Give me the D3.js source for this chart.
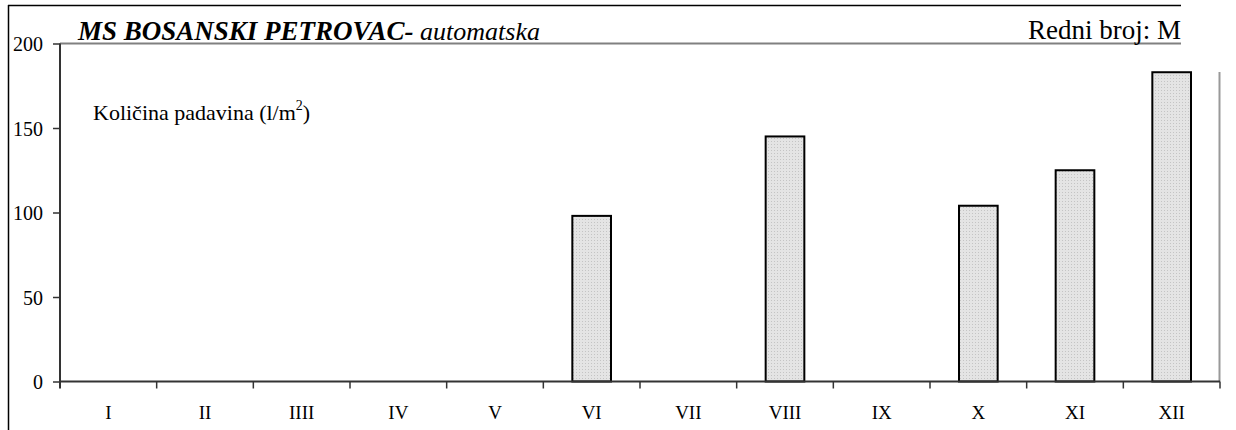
<!DOCTYPE html>
<html><head><meta charset="utf-8">
<script src="https://cdn.jsdelivr.net/npm/d3@7/dist/d3.min.js"></script>
<style>body{margin:0;background:#fff}svg{display:block}text{font-family:"Liberation Serif","Times New Roman",serif;fill:#000}</style>
</head><body>
<svg id="c" width="1236" height="430"></svg>
<script>
const months = ["I","II","IIII","IV","V","VI","VII","VIII","IX","X","XI","XII"];
const precip = [null,null,null,null,null,98,null,145,null,104,125,183];
const yTicks = [0,50,100,150,200];

const FF = "'Liberation Serif','Times New Roman',serif";
const svg = d3.select("#c");
const m = {left:60, right:1220, top:43.5, bottom:381.5};
const x = d3.scaleBand().domain(months).range([m.left, m.right]);
const y = d3.scaleLinear().domain([0,200]).range([m.bottom, m.top]);

const defs = svg.append("defs");
const pat = defs.append("pattern").attr("id","dots").attr("width",3).attr("height",3).attr("patternUnits","userSpaceOnUse");
pat.append("rect").attr("width",3).attr("height",3).attr("fill","#e4e4e4");
pat.append("rect").attr("width",1).attr("height",1).attr("fill","#c4c4c4");

// outer frame lines
svg.append("line").attr("x1",8.5).attr("x2",8.5).attr("y1",5).attr("y2",430).attr("stroke","#000").attr("stroke-width",1.5);
svg.append("line").attr("x1",8).attr("x2",1181).attr("y1",5.5).attr("y2",5.5).attr("stroke","#000").attr("stroke-width",1.5);
// grey top line under title
svg.append("line").attr("x1",m.left).attr("x2",1181).attr("y1",m.top).attr("y2",m.top).attr("stroke","#808080").attr("stroke-width",2);
// right grey line
svg.append("line").attr("x1",1219.5).attr("x2",1219.5).attr("y1",72).attr("y2",m.bottom).attr("stroke","#999").attr("stroke-width",2);

// bars
svg.append("g").selectAll("rect").data(months.map((k,i)=>({k,v:precip[i]})).filter(d=>d.v!=null))
  .join("rect")
  .attr("x",d=>x(d.k)+x.bandwidth()*0.3)
  .attr("width",x.bandwidth()*0.4)
  .attr("y",d=>y(d.v))
  .attr("height",d=>y(0)-y(d.v))
  .attr("fill","url(#dots)").attr("stroke","#000").attr("stroke-width",2);

// y axis
const ya = svg.append("g").attr("transform",`translate(${m.left},0)`)
  .call(d3.axisLeft(y).tickValues(yTicks).tickSize(7).tickPadding(10));
ya.attr("font-family",FF).attr("font-size",20);
ya.select(".domain").attr("d",`M0,${m.top}V${m.bottom+7}`).attr("stroke","#333").attr("stroke-width",2);
ya.selectAll(".tick line").attr("stroke","#333").attr("stroke-width",1.5);
ya.selectAll("text").attr("fill","#000").attr("dy","0.35em");

// x axis
const xa = svg.append("g").attr("transform",`translate(0,${m.bottom})`)
  .call(d3.axisBottom(x).tickSize(0).tickPadding(0));
xa.attr("font-family",FF).attr("font-size",19);
xa.select(".domain").attr("d",`M${m.left},0H${m.right}`).attr("stroke","#333").attr("stroke-width",2);
xa.selectAll("text").attr("y",37).attr("dy",0).attr("fill","#000");
xa.selectAll(".bound").data(months.slice(1).concat(["end"])).join("line")
  .attr("x1",(d,i)=>m.left+x.step()*(i+1)).attr("x2",(d,i)=>m.left+x.step()*(i+1))
  .attr("y1",0).attr("y2",7).attr("stroke","#333").attr("stroke-width",1.5);

// title
const t = svg.append("text").attr("x",78).attr("y",40).attr("font-family",FF).style("font-size","27px").style("font-style","italic");
t.append("tspan").text("MS BOSANSKI PETROVAC-").style("font-weight","bold");
t.append("tspan").text(" automatska").style("font-size","26px");
svg.append("text").attr("x",1181).attr("y",39).attr("font-family",FF).attr("text-anchor","end").style("font-size","27px").text("Redni broj: M");

// label
const l = svg.append("text").attr("x",93).attr("y",120).attr("font-family",FF).style("font-size","22px");
l.append("tspan").text("Količina padavina (l/m");
l.append("tspan").text("2").attr("dy",-10).style("font-size","14px");
l.append("tspan").text(")").attr("dy",10);
</script>
</body></html>
